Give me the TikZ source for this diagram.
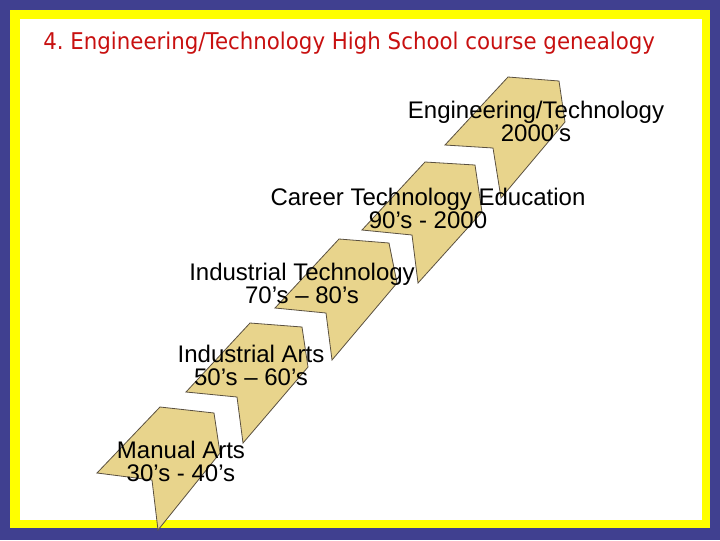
\documentclass[tikz,border=0pt]{standalone}
\usepackage{fontspec}
\setmainfont{Liberation Sans}
\newfontfamily\titlefont{DejaVu Sans}
\definecolor{frameblue}{RGB}{64,64,144}
\definecolor{frameyellow}{RGB}{255,255,0}
\definecolor{titlered}{RGB}{200,16,16}
\definecolor{chevfill}{RGB}{232,212,140}
\definecolor{chevline}{RGB}{90,80,64}
\begin{document}
\begin{tikzpicture}[x=0.75pt,y=-0.75pt,
  chev/.style={fill=chevfill,draw=chevline,line width=0.6pt,line join=miter},
  lbl/.style={align=center,font=\fontsize{18pt}{17.25pt}\selectfont,inner sep=0pt,text=black},
  ttl/.style={font=\titlefont\fontsize{16pt}{19pt}\selectfont\frenchspacing,text=titlered,inner sep=0pt}]
\useasboundingbox (0,0) rectangle (720,540);
\fill[frameblue] (0,0) rectangle (720,540);
\fill[frameyellow] (10,10) rectangle (710,528);
\fill[white] (20,19) rectangle (702,520);
% chevrons
\draw[chev] (160,407) -- (214,413) -- (220,453) -- (158,530) -- (152,480) -- (97,473) -- cycle;
\draw[chev] (250,323) -- (302,327) -- (308,367) -- (243,443) -- (237,397) -- (186,392) -- cycle;
\draw[chev] (339,239) -- (389,243) -- (397,283) -- (332,360) -- (326,313) -- (275,308) -- cycle;
\draw[chev] (425,162) -- (475,165) -- (482,212) -- (418,283) -- (412,235) -- (362,230) -- cycle;
\draw[chev] (508,77) -- (559,81) -- (565,122) -- (501,198) -- (493,148) -- (445,145) -- cycle;
% labels
\node[ttl,anchor=west] (title) at (43,43) {\scalebox{1}[1.08]{4.\ Engineering/Technology High School course genealogy}};
\node[lbl] (eng) at (536,121) {Engineering/Technology\\2000’s};
\node[lbl] (cte) at (428,208) {Career Technology Education\\90’s - 2000};
\node[lbl] (it) at (302,283) {Industrial Technology\\70’s – 80’s};
\node[lbl] (ia) at (251,365) {Industrial Arts\\50’s – 60’s};
\node[lbl] (ma) at (181,461) {Manual Arts\\30’s - 40’s};
\end{tikzpicture}
\end{document}
